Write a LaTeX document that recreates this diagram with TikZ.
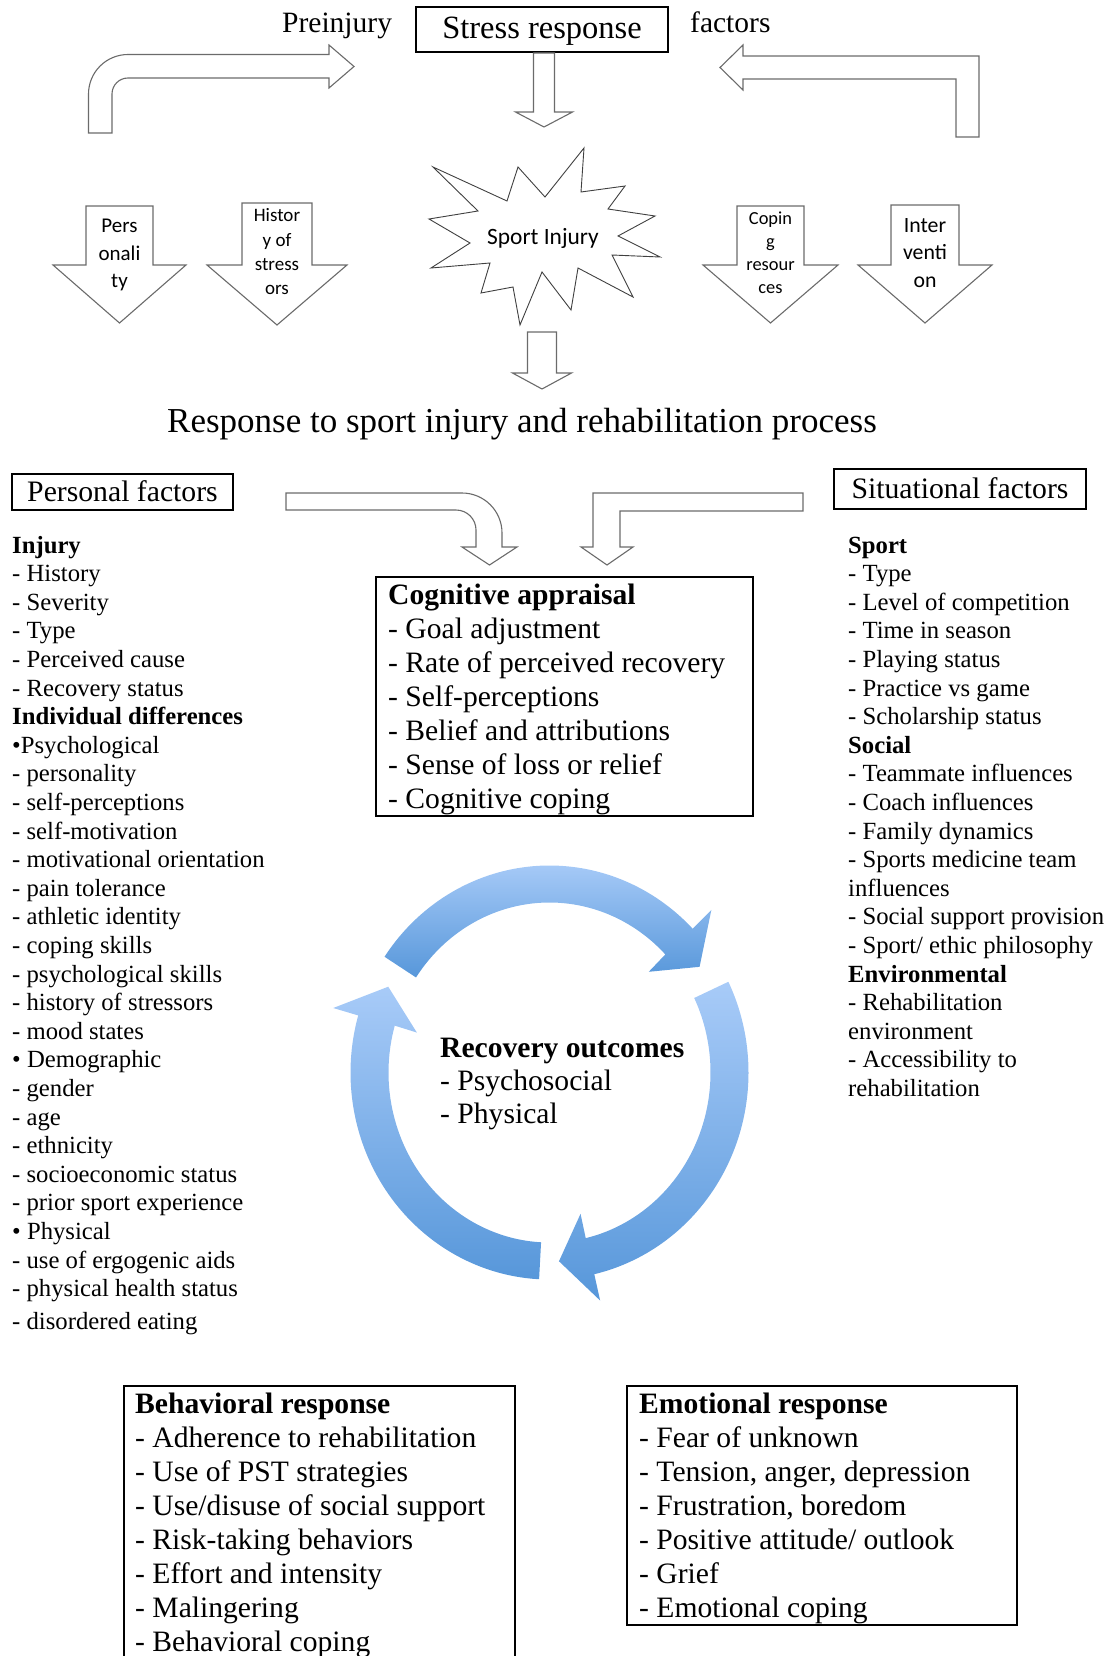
\documentclass[tikz,border=0pt]{standalone}
\usepackage{fontspec}
\setmainfont{Liberation Serif}
\newfontfamily\calibrifont{Carlito}
\usetikzlibrary{calc}
\definecolor{CYC_LIGHT}{HTML}{A8CBF8}
\definecolor{CYC_DARK}{HTML}{5797DA}
\definecolor{BLOCK_GRAY}{HTML}{6B6B6B}

\tikzset{
  blockarrow/.style={draw=BLOCK_GRAY, line width=1.1, fill=white, line join=miter},
  framebox/.style={draw=black, line width=1.8, inner sep=0pt},
  titlebox/.style={framebox, text height=#1, text depth=0pt},
  listline/.style={anchor=base west, inner sep=0pt, font=\fontsize{24.7}{28.6}\selectfont},
  boxline/.style={anchor=base west, inner sep=0pt, font=\fontsize{29.6}{34}\selectfont},
  arrowtext/.style={anchor=base, inner sep=0pt},
  cycarrow/.style={top color=CYC_LIGHT, bottom color=CYC_DARK, draw=none}
}

% down block arrow: centre x, shaft half width, head half width, top y, head base y, tip y
\newcommand\downblock[6]{%
  \draw[blockarrow] ({#1-#2},#4) -- ({#1-#2},#5) -- ({#1-#3},#5) -- (#1,#6)
    -- ({#1+#3},#5) -- ({#1+#2},#5) -- ({#1+#2},#4) -- cycle;}

% one node per text line: name, x, first baseline, skip, style, lines
\newcommand\textlines[6]{%
  \foreach \lineitem [count=\i] in {#6}
    \node[#5] (#1-\i) at (#2,{#3-#4*(\i-1)}) {\lineitem};}

% curved cycle arrow: tail angle, head base angle, tip angle
\newcommand\cyclearrow[3]{%
  \shade[cycarrow] (#1:199 and 207) arc[start angle=#1, end angle=#2, x radius=199, y radius=207]
    -- (#2:225 and 234) -- (#3:181 and 189) -- (#2:138 and 145)
    -- (#2:161 and 170) arc[start angle=#2, end angle=#1, x radius=161, y radius=170] -- cycle;}

\begin{document}
\begin{tikzpicture}[x=1pt, y=1pt]
      \useasboundingbox (0,0) rectangle (1114,-1656);

      % Title row
      \node[anchor=base west, inner sep=0pt, font=\fontsize{29.5}{34}\selectfont] (preinjury) at (282,-33) {Preinjury};
      \node[titlebox=18, minimum width=252, minimum height=45, font=\fontsize{32.5}{38}\selectfont] (stress) at (542,-29.5) {Stress response};
      \node[anchor=base west, inner sep=0pt, font=\fontsize{29.5}{34}\selectfont] (factors) at (690,-33) {factors};

      % Top bent arrows
      \draw[blockarrow] (88.5,-133) -- (88.5,-94) arc[start angle=180, end angle=90, radius=39.5]
        -- (329,-54.5) -- (329,-45) -- (354,-66.5) -- (329,-88) -- (329,-78)
        -- (128,-78) arc[start angle=90, end angle=180, radius=16] -- (112,-133) -- cycle;
      \draw[blockarrow] (979,-137) -- (979,-56) -- (743,-56) -- (743,-45) -- (720,-67.5)
        -- (743,-90) -- (743,-79) -- (956,-79) -- (956,-137) -- cycle;

      % Down arrows through the centre
      \downblock{544}{10.5}{28.5}{-53}{-112}{-127}
      \downblock{542}{14.5}{29.5}{-332}{-373}{-389}

      % Factor arrows
      \downblock{119.5}{33.5}{66.5}{-206}{-265}{-323}
      \downblock{277}{35}{70}{-203}{-265}{-325}
      \downblock{770.5}{33.5}{67.5}{-206}{-265}{-323}
      \downblock{925}{34}{67}{-205}{-265}{-323}
      \textlines{pers}{119.5}{-233}{27}{arrowtext, font=\calibrifont\fontsize{21}{27}\selectfont}{Pers, onali, ty}
      \textlines{hist}{277}{-222}{24.3}{arrowtext, font=\calibrifont\fontsize{19}{24}\selectfont}{Histor, y of, stress, ors}
      \textlines{cope}{770.5}{-224}{23}{arrowtext, font=\calibrifont\fontsize{18.4}{23}\selectfont}{Copin, g, resour, ces}
      \textlines{inter}{925}{-232}{27.5}{arrowtext, font=\calibrifont\fontsize{21.8}{27}\selectfont}{Inter, venti, on}

      % Starburst
      \draw[black!75, line width=0.9, fill=white, line join=miter]
        (584,-148) -- (581,-192) -- (625,-186) -- (608,-209) -- (655,-216) -- (618,-236)
        -- (660,-257) -- (612,-255) -- (633,-297) -- (578,-268) -- (571,-310) -- (542,-272)
        -- (520,-325) -- (513,-287) -- (481,-293) -- (490,-263) -- (431,-268) -- (470,-243)
        -- (429,-219) -- (478,-211) -- (433,-167) -- (507,-201) -- (518,-167) -- (545,-197) -- cycle;
      \node[anchor=base, inner sep=0pt, font=\calibrifont\fontsize{23.4}{28}\selectfont] (injury) at (543,-244) {Sport Injury};

      \node[anchor=base, inner sep=0pt, font=\fontsize{35}{40}\selectfont] (process) at (522,-432) {Response to sport injury and rehabilitation process};

      % Personal and situational factors
      \node[titlebox=19, minimum width=221, minimum height=36, font=\fontsize{29.7}{34}\selectfont] (personal) at (122.5,-492) {Personal factors};
      \node[titlebox=19, minimum width=252, minimum height=40, font=\fontsize{29.7}{34}\selectfont] (situational) at (960,-489) {Situational factors};
      \draw[blockarrow] (286,-493) -- (462,-493) arc[start angle=90, end angle=0, radius=40]
        -- (502,-547) -- (517,-547) -- (489.5,-565) -- (462,-547) -- (476,-547)
        -- (476,-530) arc[start angle=0, end angle=90, radius=20] -- (286,-510) -- cycle;
      \draw[blockarrow] (803,-493) -- (593,-493) -- (593,-547) -- (581,-547) -- (607,-565)
        -- (633,-547) -- (620,-547) -- (620,-511) -- (803,-511) -- cycle;

      % Cognitive appraisal
      \node[framebox, minimum width=377, minimum height=239, anchor=north west] (cogbox) at (375,-576) {};
      \textlines{cog}{388}{-604}{34}{boxline}{\textbf{Cognitive appraisal}, - Goal adjustment, - Rate of perceived recovery, - Self-perceptions, - Belief and attributions, - Sense of loss or relief, - Cognitive coping}

      % Recovery cycle
      \begin{scope}[shift={(549.5,-1072.5)}]
        \cyclearrow{146}{44}{34}
        \cyclearrow{26}{-77}{-87}
        \cyclearrow{267}{164}{153}
      \end{scope}
      \textlines{rec}{440}{-1057}{33}{boxline}{\textbf{Recovery outcomes}, - Psychosocial, - Physical}

      % Personal factor list
      \textlines{perslist}{12}{-553}{28.6}{listline}{\textbf{Injury}, - History, - Severity, - Type, - Perceived cause, - Recovery status, \textbf{Individual differences}, •Psychological, - personality, - self-perceptions, - self-motivation, - motivational orientation, - pain tolerance, - athletic identity, - coping skills, - psychological skills, - history of stressors, - mood states, • Demographic, - gender, - age, - ethnicity, - socioeconomic status, - prior sport experience, • Physical, - use of ergogenic aids, - physical health status}
      \node[listline] (perslist-28) at (12,-1329.6) {- disordered eating};

      % Situational factor list
      \textlines{sitlist}{848}{-553}{28.6}{listline}{\textbf{Sport}, - Type, - Level of competition, - Time in season, - Playing status, - Practice vs game, - Scholarship status, \textbf{Social}, - Teammate influences, - Coach influences, - Family dynamics, - Sports medicine team, influences, - Social support provision, - Sport/ ethic philosophy, \textbf{Environmental}, - Rehabilitation, environment, - Accessibility to, rehabilitation}

      % Responses
      \node[framebox, minimum width=391, minimum height=320, anchor=north west] (behbox) at (123,-1385) {};
      \textlines{beh}{135}{-1413}{34}{boxline}{\textbf{Behavioral response}, - Adherence to rehabilitation, - Use of PST strategies, - Use/disuse of social support, - Risk-taking behaviors, - Effort and intensity, - Malingering, - Behavioral coping}
      \node[framebox, minimum width=390, minimum height=239, anchor=north west] (emobox) at (626,-1385) {};
      \textlines{emo}{639}{-1413}{34}{boxline}{\textbf{Emotional response}, - Fear of unknown, {- Tension, anger, depression}, {- Frustration, boredom}, - Positive attitude/ outlook, - Grief, - Emotional coping}
    \end{tikzpicture}
\end{document}
